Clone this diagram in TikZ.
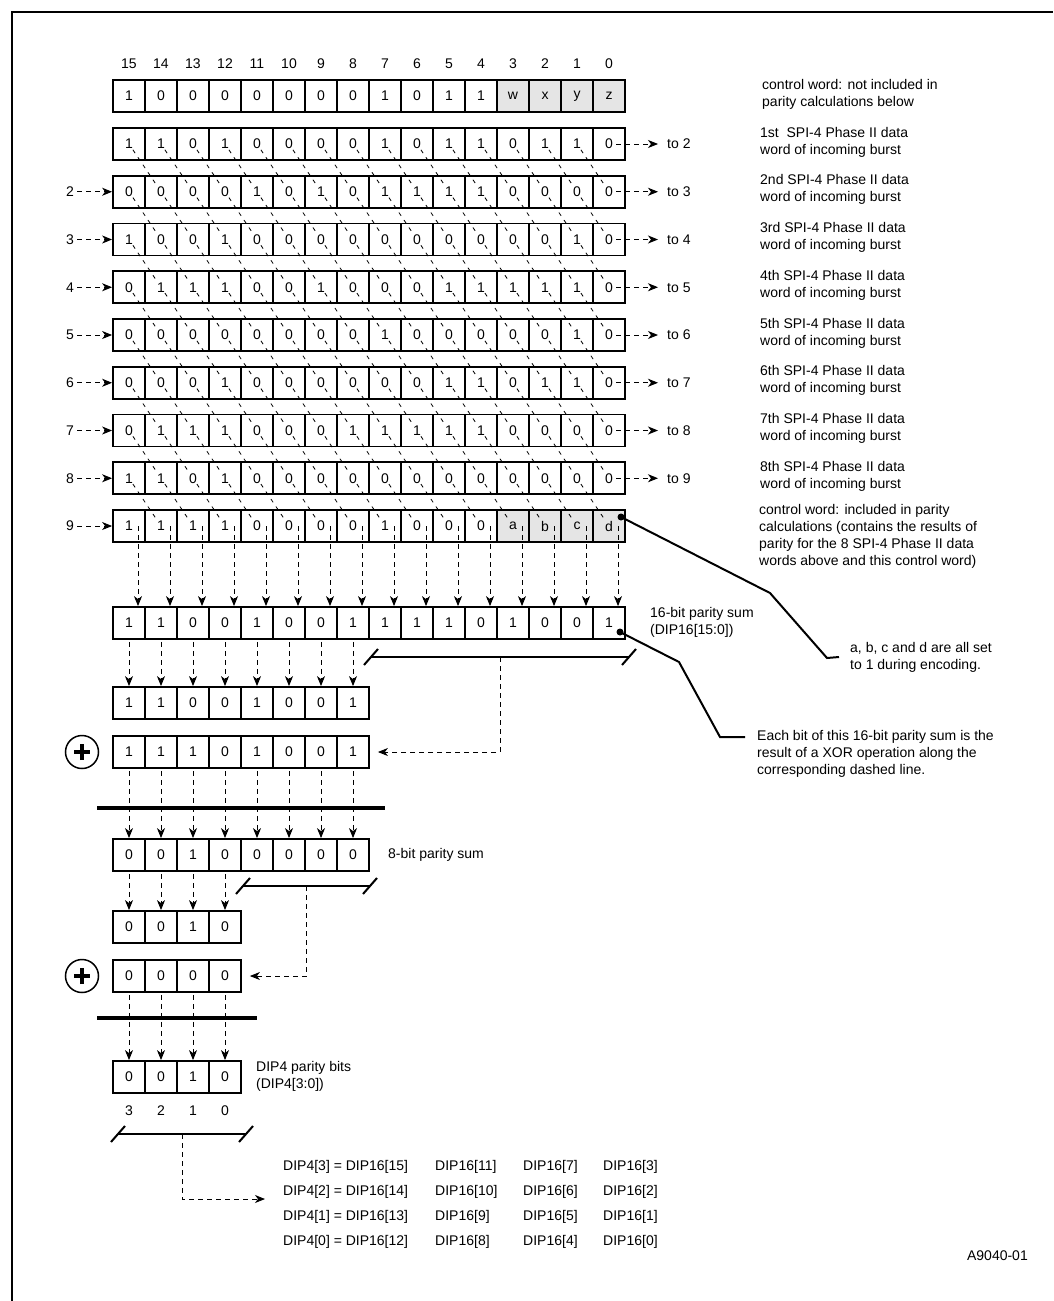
\documentclass[tikz,border=0pt]{standalone}
\usepackage{fontspec}
\setmainfont{Liberation Sans}
\usepackage{tikz}
\usetikzlibrary{positioning,arrows.meta,calc}
\definecolor{ctlgray}{RGB}{229,229,229}
\newcommand{\diagfont}{\fontsize{14}{17}\selectfont}
\tikzset{
    bit/.style={rectangle,draw,line width=1.8pt,minimum width=32pt,minimum height=32pt,inner sep=0pt},
    ctlbit/.style={bit,fill=ctlgray},
    diag/.style={line width=0.8pt,dash pattern=on 4pt off 5pt,shorten <=7pt,shorten >=7pt},
    flow/.style={-{Stealth[length=10pt,width=8pt,inset=3pt]},line width=0.9pt,dash pattern=on 5pt off 4pt},
    bar/.style={line width=4.5pt},
    span/.style={line width=2pt},
    callout/.style={line width=2pt},
    note/.style={anchor=west,align=left,inner sep=0pt},
    xorc/.style={circle,draw,line width=1.5pt,minimum size=33pt,inner sep=0pt,
        path picture={\draw[line width=3.5pt]
          ([xshift=-8pt]path picture bounding box.center) -- ([xshift=8pt]path picture bounding box.center)
          ([yshift=-8pt]path picture bounding box.center) -- ([yshift=8pt]path picture bounding box.center);}},
}
\begin{document}
\begin{tikzpicture}[x=1pt,y=-1pt,every node/.style={font=\diagfont}]
\useasboundingbox (0,0) rectangle (1053,1301);
\draw[line width=2pt] (12,1301) -- (12,12) -- (1053,12);

% bit numbers
\foreach \i in {0,...,15}
  \node (col\i) at ({129+(15-\i)*32},64) {\i};

% control word, not in parity
\foreach \b [count=\n from 0] in {1,0,0,0,0,0,0,0,1,0,1,1} {
  \pgfmathtruncatemacro{\i}{15-\n}
  \node[bit] (r0-\i) at ({129+\n*32},96) {\b};
}
\foreach \b [count=\n from 12] in {w,x,y,z} {
  \pgfmathtruncatemacro{\i}{15-\n}
  \node[ctlbit] (r0-\i) at ({129+\n*32},96) {\b};
}
\node[note] (r0txt) at (762,94) {control word: not included in\\parity calculations below};

% data words of the burst
\foreach \k/\bits/\nth in {1/{1,1,0,1,0,0,0,0,1,0,1,1,0,1,1,0}/1st\ ,
                           2/{0,0,0,0,1,0,1,0,1,1,1,1,0,0,0,0}/2nd,
                           3/{1,0,0,1,0,0,0,0,0,0,0,0,0,0,1,0}/3rd,
                           4/{0,1,1,1,0,0,1,0,0,0,1,1,1,1,1,0}/4th,
                           5/{0,0,0,0,0,0,0,0,1,0,0,0,0,0,1,0}/5th,
                           6/{0,0,0,1,0,0,0,0,0,0,1,1,0,1,1,0}/6th,
                           7/{0,1,1,1,0,0,0,1,1,1,1,1,0,0,0,0}/7th,
                           8/{1,1,0,1,0,0,0,0,0,0,0,0,0,0,0,0}/8th} {
  \foreach \b [count=\n from 0] in \bits {
    \pgfmathtruncatemacro{\i}{15-\n}
    \node[bit] (r\k-\i) at ({129+\n*32},{144+(\k-1)*47.75}) {\b};
  }
  \node[note] (r\k txt) at (760,{142+(\k-1)*47.75}) {\nth\ SPI-4 Phase II data\\word of incoming burst};
}

% control word, in parity
\foreach \b [count=\n from 0] in {1,1,1,1,0,0,0,0,1,0,0,0} {
  \pgfmathtruncatemacro{\i}{15-\n}
  \node[bit] (r9-\i) at ({129+\n*32},526) {\b};
}
\foreach \b [count=\n from 12] in {a,b,c,d} {
  \pgfmathtruncatemacro{\i}{15-\n}
  \node[ctlbit] (r9-\i) at ({129+\n*32},526) {\b};
}
\node[note] (r9txt) at (759,536) {control word: included in parity\\calculations (contains the results of\\parity for the 8 SPI-4 Phase II data\\words above and this control word)};

% diagonal xor paths
\foreach \k in {1,...,8} {
  \pgfmathtruncatemacro{\kk}{\k+1}
  \foreach \i in {1,...,15} {
    \pgfmathtruncatemacro{\j}{\i-1}
    \draw[diag] (r\k-\i.center) -- (r\kk-\j.center);
  }
  \node[note] (to\kk) at (667,{144+(\k-1)*47.75}) {to \kk};
  \draw[flow,shorten >=9pt] ([xshift=7pt]r\k-0.center) -- (to\kk.west);
  \node (from\kk) at (70,{144+\k*47.75}) {\kk};
  \draw[flow] (from\kk) -- (r\kk-15.west);
}

% 16-bit parity sum
\foreach \b [count=\n from 0] in {1,1,0,0,1,0,0,1,1,1,1,0,1,0,0,1} {
  \pgfmathtruncatemacro{\i}{15-\n}
  \node[bit] (p-\i) at ({129+\n*32},623) {\b};
}
\foreach \i in {0,...,15}
  \draw[flow] ([xshift=9pt]r9-\i.center) -- ([xshift=9pt]p-\i.north);
\node[note] (ptxt) at (650,622) {16-bit parity sum\\(DIP16[15:0])};

% fold to 8 bits
\foreach \b [count=\n from 0] in {1,1,0,0,1,0,0,1} {
  \pgfmathtruncatemacro{\i}{7-\n}
  \pgfmathtruncatemacro{\m}{15-\n}
  \node[bit] (h-\i) at ({129+\n*32},703) {\b};
  \draw[flow,shorten <=2pt] (p-\m.south) -- (h-\i.north);
}
\coordinate (lo16l) at (371,657);
\coordinate (lo16r) at (629,657);
\draw[span] (lo16l) -- (lo16r);
\draw[span] ($(lo16l)+(-7,8)$) -- ($(lo16l)+(7,-8)$);
\draw[span] ($(lo16r)+(-7,8)$) -- ($(lo16r)+(7,-8)$);

\node[xorc] (xor8) at (82,752) {};
\foreach \b [count=\n from 0] in {1,1,1,0,1,0,0,1} {
  \pgfmathtruncatemacro{\i}{7-\n}
  \node[bit] (l-\i) at ({129+\n*32},752) {\b};
}
\draw[flow,shorten >=8pt] ($(lo16l)!0.5!(lo16r)$) |- (l-0.east);

\foreach \b [count=\n from 0] in {0,0,1,0,0,0,0,0} {
  \pgfmathtruncatemacro{\i}{7-\n}
  \node[bit] (s-\i) at ({129+\n*32},855) {\b};
  \draw[flow,shorten <=2pt] (l-\i.south) -- (s-\i.north);
}
\draw[bar] (97,808) -- (385,808);
\node[note] (stxt) at (388,855) {8-bit parity sum};

% fold to 4 bits
\foreach \b [count=\n from 0] in {0,0,1,0} {
  \pgfmathtruncatemacro{\i}{3-\n}
  \pgfmathtruncatemacro{\m}{7-\n}
  \node[bit] (sh-\i) at ({129+\n*32},927) {\b};
  \draw[flow,shorten <=2pt] (s-\m.south) -- (sh-\i.north);
}
\coordinate (lo8l) at (243,886);
\coordinate (lo8r) at (370,886);
\draw[span] (lo8l) -- (lo8r);
\draw[span] ($(lo8l)+(-7,8)$) -- ($(lo8l)+(7,-8)$);
\draw[span] ($(lo8r)+(-7,8)$) -- ($(lo8r)+(7,-8)$);

\node[xorc] (xor4) at (82,976) {};
\foreach \b [count=\n from 0] in {0,0,0,0} {
  \pgfmathtruncatemacro{\i}{3-\n}
  \node[bit] (sl-\i) at ({129+\n*32},976) {\b};
}
\draw[flow,shorten >=8pt] ($(lo8l)!0.5!(lo8r)$) |- (sl-0.east);

\foreach \b [count=\n from 0] in {0,0,1,0} {
  \pgfmathtruncatemacro{\i}{3-\n}
  \node[bit] (dip-\i) at ({129+\n*32},1077) {\b};
  \node (dn-\i) at ({129+\n*32},1111) {\i};
  \draw[flow,shorten <=2pt] (sl-\i.south) -- (dip-\i.north);
}
\draw[bar] (97,1018) -- (257,1018);
\node[note] (diptxt) at (256,1076) {DIP4 parity bits\\(DIP4[3:0])};

% DIP4 mapping
\coordinate (lo4l) at (118,1134);
\coordinate (lo4r) at (246,1134);
\draw[span] (lo4l) -- (lo4r);
\draw[span] ($(lo4l)+(-7,8)$) -- ($(lo4l)+(7,-8)$);
\draw[span] ($(lo4r)+(-7,8)$) -- ($(lo4r)+(7,-8)$);
\coordinate (maptip) at (265,1199);
\draw[flow] ($(lo4l)!0.5!(lo4r)$) |- (maptip);
\foreach \r/\ca/\cb/\cc/\cd [count=\n from 0] in {3/15/11/7/3,2/14/10/6/2,1/13/9/5/1,0/12/8/4/0} {
  \node[note] (eq\r) at (283,{1167+25*\n}) {DIP4[\r] = DIP16[\ca]};
  \node[note] (mb\r) at (435,{1167+25*\n}) {DIP16[\cb]};
  \node[note] (mc\r) at (523,{1167+25*\n}) {DIP16[\cc]};
  \node[note] (md\r) at (603,{1167+25*\n}) {DIP16[\cd]};
}

% callouts
\coordinate (abcdot) at ([xshift=12pt,yshift=9pt]r9-0.center);
\coordinate (abck1) at (770,593);
\coordinate (abck2) at (827,658);
\node[note] (abcnote) at (850,657) {a, b, c and d are all set\\to 1 during encoding.};
\fill (abcdot) circle (3.5pt);
\draw[callout] (abcdot) -- (abck1) -- (abck2) -- ([xshift=-11pt]abcnote.west);

\coordinate (xordot) at ([xshift=11pt,yshift=-9pt]p-0.center);
\coordinate (xork1) at (679,662);
\coordinate (xork2) at (720,737);
\coordinate (xork3) at (745,737);
\node[note] (xornote) at (757,754) {Each bit of this 16-bit parity sum is the\\result of a XOR operation along the\\corresponding dashed line.};
\fill (xordot) circle (3.5pt);
\draw[callout] (xordot) -- (xork1) -- (xork2) -- (xork3);

\node[anchor=east,inner sep=0pt] (figid) at (1028,1256) {A9040-01};
\end{tikzpicture}
\end{document}
